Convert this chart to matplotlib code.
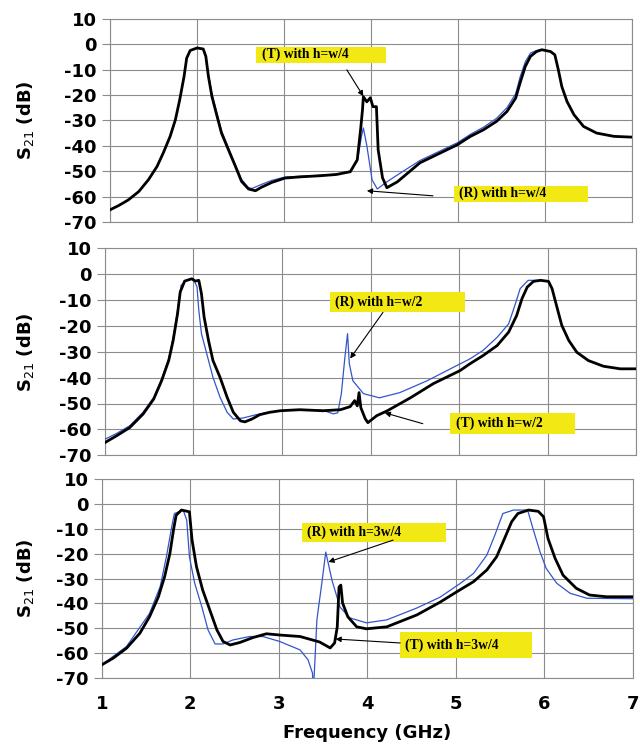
import matplotlib.pyplot as plt
from matplotlib.patches import Rectangle

plt.rcParams['axes.unicode_minus'] = False

# S21 measurements, three cases of h: (T) black, (R) blue
f_t1 = [1.0, 1.10, 1.21, 1.33, 1.44, 1.54, 1.61, 1.69, 1.75, 1.80, 1.85, 1.88, 1.92, 2.0,
        2.07, 2.10, 2.13, 2.17, 2.23, 2.28, 2.36, 2.44, 2.51, 2.59, 2.67, 2.74, 2.86, 3.01,
        3.2, 3.41, 3.6, 3.76, 3.84, 3.88, 3.90, 3.91, 3.95, 3.99, 4.02, 4.06, 4.08, 4.13,
        4.18, 4.30, 4.56, 4.99, 5.14, 5.29, 5.44, 5.56, 5.66, 5.71, 5.77, 5.83, 5.90, 5.96,
        6.06, 6.11, 6.15, 6.19, 6.25, 6.33, 6.44, 6.59, 6.79, 7.0]
s_t1 = [-65.2, -63.5, -61.3, -58.0, -53.4, -48.1, -42.9, -36.3, -29.8, -21.9, -12.7, -5.5,
        -2.5, -1.5, -1.9, -4.8, -12.7, -20.6, -28.5, -35.0, -41.6, -48.1, -54.0, -57.0, -57.7,
        -56.3, -54.4, -52.7, -52.2, -51.8, -51.3, -50.2, -45.5, -33.0, -25.8, -20.7, -22.7,
        -21.1, -24.6, -24.6, -41.6, -52.6, -56.5, -54.2, -46.7, -39.6, -36.3, -33.7, -30.4,
        -26.5, -21.2, -15.3, -8.8, -4.8, -2.9, -2.2, -2.9, -4.2, -10.1, -16.7, -22.6, -27.8,
        -32.4, -35.0, -36.3, -36.6]
f_r1 = [1.0, 1.10, 1.21, 1.33, 1.44, 1.54, 1.61, 1.69, 1.75, 1.80, 1.85, 1.88, 1.92, 2.0,
        2.07, 2.10, 2.13, 2.17, 2.23, 2.28, 2.36, 2.44, 2.51, 2.59, 2.63, 2.74, 2.86, 3.01,
        3.41, 3.6, 3.76, 3.84, 3.89, 3.91, 3.95, 4.01, 4.07, 4.18, 4.30, 4.56, 4.99, 5.14,
        5.29, 5.44, 5.56, 5.66, 5.71, 5.77, 5.83, 5.90, 5.96, 6.06, 6.11, 6.15, 6.19, 6.25,
        6.33, 6.44, 6.59, 6.79, 7.0]
s_r1 = [-65.2, -63.5, -61.3, -58.0, -53.4, -48.1, -42.9, -36.3, -29.8, -21.9, -12.7, -5.5,
        -2.5, -1.5, -1.9, -4.8, -12.0, -19.5, -27.5, -34.0, -40.8, -47.5, -53.2, -56.5,
        -56.8, -55.2, -53.6, -52.3, -51.6, -51.2, -50.2, -46.0, -36.0, -33.0, -40.0, -53.4,
        -57.0, -54.2, -51.5, -45.8, -38.8, -35.5, -32.7, -29.2, -25.0, -19.5, -13.0, -7.0,
        -3.5, -2.5, -2.2, -2.9, -4.2, -10.1, -16.7, -22.6, -27.8, -32.4, -35.0, -36.3, -36.6]

f_t2 = [1.0, 1.13, 1.28, 1.43, 1.55, 1.64, 1.72, 1.77, 1.82, 1.85, 1.90, 1.98, 2.02, 2.06,
        2.09, 2.12, 2.17, 2.22, 2.30, 2.38, 2.45, 2.53, 2.58, 2.66, 2.75, 2.86, 2.98, 3.20,
        3.46, 3.66, 3.77, 3.82, 3.85, 3.87, 3.89, 3.94, 3.97, 4.07, 4.19, 4.45, 4.71, 5.01,
        5.12, 5.27, 5.43, 5.56, 5.65, 5.71, 5.77, 5.84, 5.92, 6.01, 6.05, 6.10, 6.16, 6.24,
        6.33, 6.46, 6.63, 6.82, 7.0]
s_t2 = [-65.1, -62.5, -59.3, -54.1, -48.3, -41.2, -33.4, -25.7, -15.3, -6.9, -2.7, -1.8,
        -2.7, -2.4, -7.6, -16.6, -25.7, -33.4, -39.9, -47.6, -53.4, -56.7, -57.1, -56.0,
        -54.3, -53.4, -52.8, -52.4, -52.8, -52.4, -51.2, -48.9, -50.9, -45.8, -51.6, -55.9,
        -57.4, -54.7, -52.8, -47.8, -42.3, -37.3, -34.7, -31.5, -27.6, -22.4, -16.0, -9.5,
        -5.0, -2.8, -2.4, -2.8, -5.6, -12.1, -19.8, -25.7, -30.2, -33.4, -35.6, -36.6, -36.6]
f_r2 = [1.0, 1.13, 1.28, 1.43, 1.55, 1.64, 1.72, 1.77, 1.82, 1.86, 1.92, 2.0, 2.04, 2.06,
        2.09, 2.15, 2.22, 2.30, 2.38, 2.45, 2.56, 2.71, 2.86, 2.98, 3.20, 3.46, 3.58, 3.63,
        3.67, 3.71, 3.74, 3.76, 3.80, 3.92, 4.10, 4.33, 4.64, 4.93, 5.12, 5.27, 5.43, 5.56,
        5.63, 5.69, 5.78, 5.92, 6.01, 6.05, 6.10, 6.16, 6.24, 6.33, 6.46, 6.63, 6.82, 7.0]
s_r2 = [-63.8, -61.6, -58.6, -53.4, -47.7, -40.5, -32.7, -24.4, -14.0, -4.3, -2.4, -1.8,
        -5.0, -14.0, -23.0, -30.8, -39.9, -47.6, -53.4, -56.0, -55.6, -54.3, -53.4, -52.8,
        -52.4, -52.6, -54.0, -53.6, -46.2, -32.2, -23.0, -34.6, -41.2, -46.2, -47.8, -45.8,
        -41.2, -36.1, -32.8, -29.5, -24.4, -19.2, -12.1, -5.6, -2.4, -2.4, -2.8, -5.6, -12.1,
        -19.8, -25.7, -30.2, -33.4, -35.6, -36.6, -36.6]

f_t3 = [1.0, 1.13, 1.28, 1.43, 1.54, 1.64, 1.71, 1.77, 1.81, 1.84, 1.90, 1.99, 2.02, 2.07,
        2.14, 2.22, 2.30, 2.37, 2.45, 2.56, 2.71, 2.86, 3.01, 3.24, 3.46, 3.58, 3.63, 3.66,
        3.68, 3.70, 3.72, 3.78, 3.88, 3.99, 4.22, 4.56, 4.82, 5.01, 5.20, 5.35, 5.46, 5.55,
        5.63, 5.70, 5.82, 5.93, 5.99, 6.04, 6.12, 6.21, 6.36, 6.51, 6.70, 7.0]
s_t3 = [-64.7, -62.0, -58.0, -52.0, -45.3, -37.3, -29.2, -19.8, -10.5, -4.5, -2.4, -3.1,
        -14.5, -25.2, -34.6, -42.6, -50.6, -55.3, -56.7, -55.7, -53.7, -52.2, -52.7, -53.3,
        -55.5, -57.9, -55.9, -49.4, -33.4, -32.6, -39.8, -45.4, -49.4, -50.2, -49.4, -44.6,
        -39.5, -35.3, -31.2, -26.5, -21.2, -13.8, -7.1, -3.8, -2.4, -2.9, -5.1, -13.8, -21.8,
        -28.6, -33.9, -36.6, -37.3, -37.3]
f_r3 = [1.0, 1.28, 1.54, 1.66, 1.73, 1.79, 1.82, 1.92, 1.96, 1.99, 2.05, 2.13, 2.20, 2.28,
        2.37, 2.48, 2.67, 2.82, 3.01, 3.24, 3.33, 3.38, 3.39, 3.43, 3.49, 3.53, 3.55, 3.60,
        3.69, 3.80, 3.99, 4.22, 4.56, 4.82, 5.05, 5.20, 5.35, 5.44, 5.53, 5.65, 5.81, 5.87,
        5.95, 6.02, 6.14, 6.29, 6.48, 7.0]
s_r3 = [-64.7, -57.3, -44.0, -33.2, -21.2, -9.2, -3.8, -2.4, -6.5, -21.2, -31.9, -41.3,
        -50.6, -56.3, -56.3, -54.7, -53.3, -53.3, -55.3, -58.7, -62.7, -68.0, -76.0, -46.6,
        -30.6, -19.3, -22.5, -30.6, -41.4, -45.8, -47.8, -46.6, -41.8, -37.5, -31.9, -27.9,
        -20.5, -12.5, -3.8, -2.4, -2.4, -9.8, -19.2, -25.9, -31.9, -35.9, -37.9, -38.1]

yticks = [-70, -60, -50, -40, -30, -20, -10, 0, 10]
xticks = [1, 2, 3, 4, 5, 6, 7]

# label text, box (x0, y0, x1, y1), arrow tail, arrow head
notes1 = [("(T) with h=w/4", (2.68, -7.3, 4.17, -1.0), (3.72, -10.1), (3.91, -20.5)),
          ("(R) with h=w/4", (4.95, -62.0, 6.49, -55.7), (4.71, -59.7), (3.95, -57.7))]
notes2 = [("(R) with h=w/2", (3.54, -14.8, 5.07, -7.1), (4.14, -14.8), (3.77, -32.6)),
          ("(T) with h=w/2", (4.90, -61.7, 6.31, -53.6), (4.59, -57.8), (4.16, -53.6))]
notes3 = [("(R) with h=3w/4", (3.26, -15.3, 4.89, -7.7), (4.29, -14.5), (3.56, -23.3)),
          ("(T) with h=3w/4", (4.37, -61.9, 5.86, -51.4), (4.37, -55.9), (3.64, -54.3))]

fig = plt.figure(figsize=(6.4, 7.5), dpi=100)
boxes = [[0.172, 0.704, 0.816, 0.271],
         [0.164, 0.393, 0.830, 0.276],
         [0.159, 0.096, 0.830, 0.265]]
panels = [(f_t1, s_t1, f_r1, s_r1, notes1),
          (f_t2, s_t2, f_r2, s_r2, notes2),
          (f_t3, s_t3, f_r3, s_r3, notes3)]

for i, (box, (ft, st, fr, sr, notes)) in enumerate(zip(boxes, panels)):
    ax = fig.add_axes(box)
    ax.plot(fr, sr, color='#3355cc', lw=0.9, zorder=3)
    ax.plot(ft, st, color='black', lw=2.0, zorder=4, solid_joinstyle='round')
    ax.set_xlim(1, 7)
    ax.set_ylim(-70, 10)
    ax.set_xticks(xticks)
    ax.set_yticks(yticks)
    ax.grid(True, color='#8c8c8c', lw=0.8)
    for sp in ax.spines.values():
        sp.set_color('#8c8c8c')
        sp.set_linewidth(0.8)
    ax.tick_params(axis='y', colors='#8c8c8c', length=6, width=0.8, labelcolor='black')
    ax.tick_params(axis='x', colors='#8c8c8c', length=0, labelcolor='black', pad=12)
    for lab in ax.get_yticklabels():
        lab.set_fontweight('bold')
        lab.set_fontsize(13)
    if i < 2:
        ax.set_xticklabels([])
    else:
        for lab in ax.get_xticklabels():
            lab.set_fontweight('bold')
            lab.set_fontsize(13)
        ax.set_xlabel('Frequency (GHz)', fontsize=13, fontweight='bold', labelpad=8)
    fig.text(0.04, box[1] + box[3] / 2, r'S$_{21}$ (dB)', rotation=90, fontsize=13,
             fontweight='bold', ha='center', va='center')

    for text, (x0, y0, x1, y1), tail, head in notes:
        ax.add_patch(Rectangle((x0, y0), x1 - x0, y1 - y0, facecolor='#f2e813',
                               edgecolor='none', zorder=5))
        ax.text(x0 + 0.06, (y0 + y1) / 2, text, fontsize=9.8, fontweight='bold',
                family='Liberation Serif', ha='left', va='center', zorder=6)
        ax.annotate('', xy=head, xytext=tail,
                    arrowprops=dict(arrowstyle='-|>', color='black', lw=0.8,
                                    mutation_scale=8, shrinkA=0, shrinkB=0), zorder=6)

fig.savefig('out.png', dpi=100)
